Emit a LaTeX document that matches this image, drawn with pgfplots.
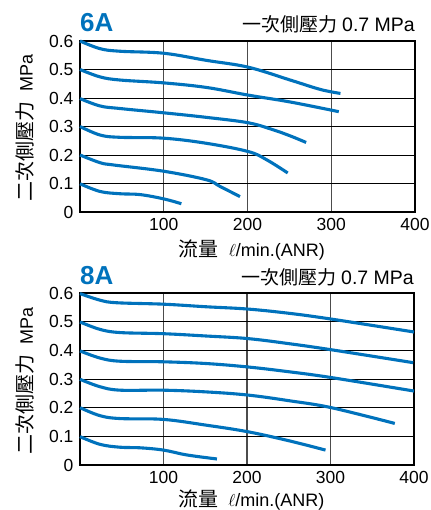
\documentclass[border=0pt]{standalone}
\usepackage{pgfplots}
\pgfplotsset{compat=1.18}
\usepackage{fontspec}
\setmainfont{Liberation Sans}
\newfontfamily\cjk{Noto Sans CJK TC}
\definecolor{lineblue}{RGB}{0,114,188}
\pgfplotsset{
  chart/.style={
    scale only axis,
    width=335pt, height=171pt,
    xmin=0, xmax=400, ymin=0, ymax=0.6,
    xtick={100,200,300,400}, xticklabels={100,200,300,400},
    ytick={0,0.1,0.2,0.3,0.4,0.5,0.6}, yticklabels={0,0.1,0.2,0.3,0.4,0.5,0.6},
    /pgf/number format/assume math mode=true,
    major tick length=0pt,
    grid=major,
    x grid style={draw=black!70, line width=1.2pt},
    y grid style={draw=black, line width=0.9pt},
    axis line style={draw=black, line width=1.3pt},
    tick label style={font=\fontsize{17.5}{20}\selectfont},
    yticklabel style={xshift=-3pt},
    xticklabel style={yshift=-3pt},
    clip=false,
    every axis plot post/.style={draw=lineblue, solid, line width=3.1pt, smooth, tension=0.6, mark=none},
    xlabel style={at={(axis description cs:0.513,-0.222)}, anchor=center},
    ylabel style={at={(axis description cs:-0.164,0.49)}, anchor=center, rotate=0},
    xlabel={{\cjk\fontsize{20}{22}\selectfont 流量}\hspace{10pt}{\fontsize{18}{20}\selectfont$\ell$/min.(ANR)}},
    ylabel={{\cjk\fontsize{20}{22}\selectfont 二次側壓力}\hspace{10pt}{\fontsize{18}{20}\selectfont MPa}},
  }
}
\begin{document}
\begin{tikzpicture}
\useasboundingbox (0,0) rectangle (430pt,510pt);
\begin{axis}[chart, at={(80pt,298pt)}, anchor=south west]
\addplot coordinates {(0,0.6)(24,0.573)(48,0.564)(100,0.557)(151,0.532)(201,0.508)(251,0.463)(287,0.43)(311,0.416)};
\addplot coordinates {(0,0.5)(24,0.474)(48,0.463)(100,0.453)(151,0.437)(201,0.41)(251,0.386)(309,0.352)};
\addplot coordinates {(0,0.398)(24,0.372)(48,0.363)(100,0.348)(151,0.332)(201,0.313)(231,0.288)(251,0.267)(270,0.244)};
\addplot coordinates {(0,0.3)(24,0.27)(48,0.262)(100,0.259)(151,0.241)(201,0.212)(223,0.183)(248,0.137)};
\addplot coordinates {(0,0.2)(24,0.173)(40,0.165)(100,0.143)(151,0.113)(167,0.09)(191,0.054)};
\addplot coordinates {(0,0.099)(24,0.072)(48,0.064)(72,0.061)(100,0.046)(121,0.029)};
\node[anchor=base west, inner sep=0pt, text=lineblue, font=\bfseries\fontsize{26}{28}\selectfont] at (rel axis cs:0,1) [yshift=9pt] {6A};
\node[anchor=base east, inner sep=0pt] at (rel axis cs:1,1) [yshift=9pt] {{\cjk\fontsize{19}{22}\selectfont 一次側壓力}\hspace{5pt}{\fontsize{19.5}{22}\selectfont 0.7 MPa}};
\end{axis}
\begin{axis}[chart, at={(80pt,45pt)}, anchor=south west, width=334pt, height=172pt,
  xlabel style={at={(axis description cs:0.513,-0.205)}}]
\addplot coordinates {(0,0.598)(24,0.575)(44,0.566)(100,0.561)(151,0.552)(201,0.544)(251,0.529)(301,0.509)(400,0.464)};
\addplot coordinates {(0,0.499)(24,0.473)(48,0.462)(100,0.458)(151,0.45)(201,0.441)(251,0.423)(301,0.402)(399,0.357)};
\addplot coordinates {(0,0.398)(24,0.373)(48,0.362)(100,0.36)(151,0.354)(201,0.342)(251,0.325)(301,0.305)(400,0.258)};
\addplot coordinates {(0,0.299)(24,0.273)(48,0.261)(100,0.261)(151,0.255)(201,0.244)(251,0.224)(301,0.2)(377,0.145)};
\addplot coordinates {(0,0.2)(24,0.172)(48,0.162)(100,0.159)(151,0.139)(201,0.116)(251,0.084)(294,0.052)};
\addplot coordinates {(0,0.099)(24,0.072)(48,0.062)(72,0.06)(100,0.052)(128,0.035)(164,0.021)};
\node[anchor=base west, inner sep=0pt, text=lineblue, font=\bfseries\fontsize{26}{28}\selectfont] at (rel axis cs:0,1) [yshift=9pt] {8A};
\node[anchor=base east, inner sep=0pt] at (rel axis cs:1,1) [yshift=9pt] {{\cjk\fontsize{19}{22}\selectfont 一次側壓力}\hspace{5pt}{\fontsize{19.5}{22}\selectfont 0.7 MPa}};
\end{axis}
\end{tikzpicture}
\end{document}
